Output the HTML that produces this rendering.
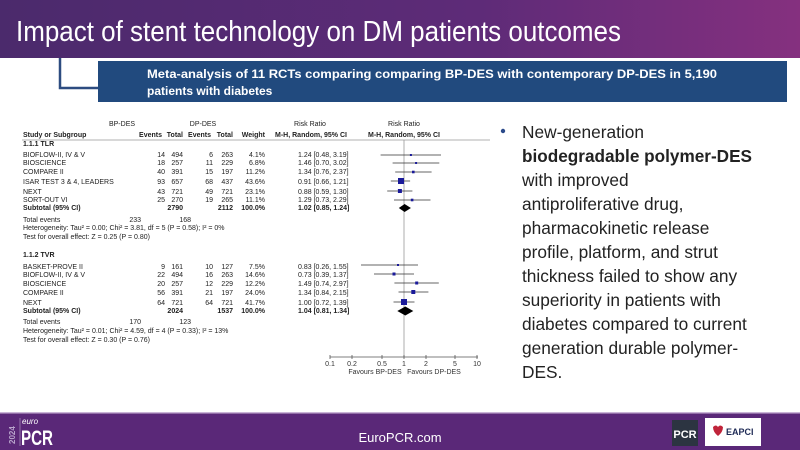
<!DOCTYPE html>
<html><head><meta charset="utf-8"><style>
html,body{margin:0;padding:0;width:800px;height:450px;overflow:hidden;background:#fff;font-family:"Liberation Sans",sans-serif}
</style></head><body>
<svg width="800" height="450" viewBox="0 0 800 450" xmlns="http://www.w3.org/2000/svg" font-family="Liberation Sans, sans-serif">
<defs>
<linearGradient id="tg" x1="0" x2="1" y1="0" y2="0"><stop offset="0" stop-color="#4b2a6c"/><stop offset="0.6" stop-color="#5e2b78"/><stop offset="1" stop-color="#85307f"/></linearGradient>
</defs>
<rect x="0" y="0" width="800" height="58" fill="url(#tg)"/>
<text x="16" y="41" font-size="29" fill="#fff" textLength="605" lengthAdjust="spacingAndGlyphs">Impact of stent technology on DM patients outcomes</text>
<path d="M60 58 V88 H98" stroke="#2d4c80" stroke-width="2.5" fill="none"/>
<rect x="98" y="61" width="689" height="41" fill="#214a7e"/>
<text x="147" y="78" font-size="12" font-weight="bold" fill="#fff" textLength="570" lengthAdjust="spacingAndGlyphs">Meta-analysis of 11 RCTs comparing comparing BP-DES with contemporary DP-DES in 5,190</text>
<text x="147" y="95" font-size="12" font-weight="bold" fill="#fff">patients with diabetes</text>

<g font-size="7" fill="#222">
<text x="122" y="126" text-anchor="middle">BP-DES</text>
<text x="203" y="126" text-anchor="middle">DP-DES</text>
<text x="310" y="126" text-anchor="middle">Risk Ratio</text>
<text x="404" y="126" text-anchor="middle">Risk Ratio</text>
<g font-weight="bold">
<text x="23" y="137">Study or Subgroup</text>
<text x="162" y="137" text-anchor="end">Events</text><text x="183" y="137" text-anchor="end">Total</text>
<text x="211" y="137" text-anchor="end">Events</text><text x="233" y="137" text-anchor="end">Total</text>
<text x="265" y="137" text-anchor="end">Weight</text>
<text x="311" y="137" text-anchor="middle">M-H, Random, 95% CI</text>
<text x="404" y="137" text-anchor="middle">M-H, Random, 95% CI</text>
<text x="23" y="146">1.1.1 TLR</text>
</g>
<line x1="22" y1="140" x2="490" y2="140" stroke="#999" stroke-width="0.8"/>

<text x="23" y="157">BIOFLOW-II, IV &amp; V</text><text x="165" y="157" text-anchor="end">14</text><text x="183" y="157" text-anchor="end">494</text><text x="213" y="157" text-anchor="end">6</text><text x="233" y="157" text-anchor="end">263</text><text x="265" y="157" text-anchor="end">4.1%</text><text x="298" y="157">1.24 [0.48, 3.19]</text>
<text x="23" y="165">BIOSCIENCE</text><text x="165" y="165" text-anchor="end">18</text><text x="183" y="165" text-anchor="end">257</text><text x="213" y="165" text-anchor="end">11</text><text x="233" y="165" text-anchor="end">229</text><text x="265" y="165" text-anchor="end">6.8%</text><text x="298" y="165">1.46 [0.70, 3.02]</text>
<text x="23" y="174">COMPARE II</text><text x="165" y="174" text-anchor="end">40</text><text x="183" y="174" text-anchor="end">391</text><text x="213" y="174" text-anchor="end">15</text><text x="233" y="174" text-anchor="end">197</text><text x="265" y="174" text-anchor="end">11.2%</text><text x="298" y="174">1.34 [0.76, 2.37]</text>
<text x="23" y="184">ISAR TEST 3 &amp; 4, LEADERS</text><text x="165" y="184" text-anchor="end">93</text><text x="183" y="184" text-anchor="end">657</text><text x="213" y="184" text-anchor="end">68</text><text x="233" y="184" text-anchor="end">437</text><text x="265" y="184" text-anchor="end">43.6%</text><text x="298" y="184">0.91 [0.66, 1.21]</text>
<text x="23" y="194">NEXT</text><text x="165" y="194" text-anchor="end">43</text><text x="183" y="194" text-anchor="end">721</text><text x="213" y="194" text-anchor="end">49</text><text x="233" y="194" text-anchor="end">721</text><text x="265" y="194" text-anchor="end">23.1%</text><text x="298" y="194">0.88 [0.59, 1.30]</text>
<text x="23" y="202">SORT-OUT VI</text><text x="165" y="202" text-anchor="end">25</text><text x="183" y="202" text-anchor="end">270</text><text x="213" y="202" text-anchor="end">19</text><text x="233" y="202" text-anchor="end">265</text><text x="265" y="202" text-anchor="end">11.1%</text><text x="298" y="202">1.29 [0.73, 2.29]</text>
<g font-weight="bold"><text x="23" y="210">Subtotal (95% CI)</text><text x="183" y="210" text-anchor="end">2790</text><text x="233" y="210" text-anchor="end">2112</text><text x="265" y="210" text-anchor="end">100.0%</text><text x="298" y="210">1.02 [0.85, 1.24]</text></g>
<text x="23" y="222">Total events</text><text x="141" y="222" text-anchor="end">233</text><text x="191" y="222" text-anchor="end">168</text>
<text x="23" y="230">Heterogeneity: Tau² = 0.00; Chi² = 3.81, df = 5 (P = 0.58); I² = 0%</text>
<text x="23" y="239">Test for overall effect: Z = 0.25 (P = 0.80)</text>

<text x="23" y="257" font-weight="bold">1.1.2 TVR</text>
<text x="23" y="269">BASKET-PROVE II</text><text x="165" y="269" text-anchor="end">9</text><text x="183" y="269" text-anchor="end">161</text><text x="213" y="269" text-anchor="end">10</text><text x="233" y="269" text-anchor="end">127</text><text x="265" y="269" text-anchor="end">7.5%</text><text x="298" y="269">0.83 [0.26, 1.55]</text>
<text x="23" y="277">BIOFLOW-II, IV &amp; V</text><text x="165" y="277" text-anchor="end">22</text><text x="183" y="277" text-anchor="end">494</text><text x="213" y="277" text-anchor="end">16</text><text x="233" y="277" text-anchor="end">263</text><text x="265" y="277" text-anchor="end">14.6%</text><text x="298" y="277">0.73 [0.39, 1.37]</text>
<text x="23" y="286">BIOSCIENCE</text><text x="165" y="286" text-anchor="end">20</text><text x="183" y="286" text-anchor="end">257</text><text x="213" y="286" text-anchor="end">12</text><text x="233" y="286" text-anchor="end">229</text><text x="265" y="286" text-anchor="end">12.2%</text><text x="298" y="286">1.49 [0.74, 2.97]</text>
<text x="23" y="295">COMPARE II</text><text x="165" y="295" text-anchor="end">56</text><text x="183" y="295" text-anchor="end">391</text><text x="213" y="295" text-anchor="end">21</text><text x="233" y="295" text-anchor="end">197</text><text x="265" y="295" text-anchor="end">24.0%</text><text x="298" y="295">1.34 [0.84, 2.15]</text>
<text x="23" y="305">NEXT</text><text x="165" y="305" text-anchor="end">64</text><text x="183" y="305" text-anchor="end">721</text><text x="213" y="305" text-anchor="end">64</text><text x="233" y="305" text-anchor="end">721</text><text x="265" y="305" text-anchor="end">41.7%</text><text x="298" y="305">1.00 [0.72, 1.39]</text>
<g font-weight="bold"><text x="23" y="313">Subtotal (95% CI)</text><text x="183" y="313" text-anchor="end">2024</text><text x="233" y="313" text-anchor="end">1537</text><text x="265" y="313" text-anchor="end">100.0%</text><text x="298" y="313">1.04 [0.81, 1.34]</text></g>
<text x="23" y="324">Total events</text><text x="141" y="324" text-anchor="end">170</text><text x="191" y="324" text-anchor="end">123</text>
<text x="23" y="333">Heterogeneity: Tau² = 0.01; Chi² = 4.59, df = 4 (P = 0.33); I² = 13%</text>
<text x="23" y="342">Test for overall effect: Z = 0.30 (P = 0.76)</text>
</g>

<!-- forest -->
<line x1="404" y1="140" x2="404" y2="357" stroke="#999" stroke-width="0.8"/>
<g stroke="#333" stroke-width="0.8">
<line x1="380.6" y1="155" x2="441" y2="155"/>
<line x1="392.6" y1="163" x2="439.3" y2="163"/>
<line x1="395.2" y1="172" x2="431.6" y2="172"/>
<line x1="390.8" y1="181" x2="410.1" y2="181"/>
<line x1="387.2" y1="191" x2="412.4" y2="191"/>
<line x1="394" y1="200" x2="430.5" y2="200"/>
<line x1="361" y1="265" x2="418" y2="265"/>
<line x1="374" y1="274" x2="414" y2="274"/>
<line x1="394.4" y1="283" x2="438.8" y2="283"/>
<line x1="398.5" y1="292" x2="428.4" y2="292"/>
<line x1="393.5" y1="302" x2="414.5" y2="302"/>
</g>
<g fill="#1a1a9a">
<rect x="409.9" y="154" width="2" height="2"/>
<rect x="415.1" y="162" width="2" height="2"/>
<rect x="412" y="170.7" width="2.6" height="2.6"/>
<rect x="398" y="178" width="6" height="6"/>
<rect x="397.9" y="189" width="4" height="4"/>
<rect x="410.8" y="198.7" width="2.6" height="2.6"/>
<rect x="397" y="264" width="2" height="2"/>
<rect x="392.5" y="272.5" width="3" height="3"/>
<rect x="415.2" y="281.5" width="3" height="3"/>
<rect x="411.3" y="290" width="4" height="4"/>
<rect x="401" y="299" width="6" height="6"/>
</g>
<polygon points="398.8,208 404.6,204 410.9,208 404.6,212" fill="#000"/>
<polygon points="397.3,311 405.3,306.5 413.3,311 405.3,315.5" fill="#000"/>
<line x1="330" y1="357" x2="478" y2="357" stroke="#555" stroke-width="0.8"/>
<g stroke="#555" stroke-width="0.8">
<line x1="330" y1="355" x2="330" y2="359"/><line x1="352" y1="355" x2="352" y2="359"/><line x1="382" y1="355" x2="382" y2="359"/><line x1="404" y1="355" x2="404" y2="359"/><line x1="426" y1="355" x2="426" y2="359"/><line x1="455" y1="355" x2="455" y2="359"/><line x1="477" y1="355" x2="477" y2="359"/>
</g>
<g font-size="7" fill="#333" text-anchor="middle">
<text x="330" y="366">0.1</text><text x="352" y="366">0.2</text><text x="382" y="366">0.5</text><text x="404" y="366">1</text><text x="426" y="366">2</text><text x="455" y="366">5</text><text x="477" y="366">10</text>
<text x="375" y="374">Favours BP-DES</text><text x="434" y="374">Favours DP-DES</text>
</g>

<!-- bullet -->
<circle cx="503" cy="131" r="2.2" fill="#2b4a8a"/>
<g font-size="17.3" fill="#222">
<text x="522" y="138">New-generation</text>
<text x="522" y="162" font-weight="bold" textLength="230" lengthAdjust="spacingAndGlyphs">biodegradable polymer-DES</text>
<text x="522" y="186">with improved</text>
<text x="522" y="210">antiproliferative drug,</text>
<text x="522" y="234">pharmacokinetic release</text>
<text x="522" y="258">profile, platform, and strut</text>
<text x="522" y="282">thickness failed to show any</text>
<text x="522" y="306">superiority in patients with</text>
<text x="522" y="330">diabetes compared to current</text>
<text x="522" y="354">generation durable polymer-</text>
<text x="522" y="378">DES.</text>
</g>

<!-- footer -->
<rect x="0" y="412" width="800" height="38" fill="#5a2878"/>
<rect x="0" y="412" width="800" height="1.5" fill="#c9b4d6"/>
<text x="15" y="444" font-size="8" font-weight="bold" fill="#b9a5cc" transform="rotate(-90 15 444)">2024</text>
<line x1="20" y1="418" x2="20" y2="446" stroke="#b9a5cc" stroke-width="0.6"/>
<text x="22" y="424" font-size="8" font-style="italic" fill="#fff">euro</text>
<text x="21" y="445" font-size="21" font-weight="bold" fill="#fff" textLength="32" lengthAdjust="spacingAndGlyphs">PCR</text>
<text x="400" y="442" font-size="13" fill="#fff" text-anchor="middle">EuroPCR.com</text>
<rect x="672" y="420" width="26" height="26" fill="#2c3441"/>
<text x="685" y="438" font-size="11" font-weight="bold" fill="#fff" text-anchor="middle">PCR</text>
<rect x="705" y="418" width="56" height="28" fill="#fff"/>
<path d="M713 427 q3 -3 5 0 q2 -3 5 0 q0 5 -5 9 q-5 -4 -5 -9z" fill="#c0243a"/>
<text x="726" y="435" font-size="9" font-weight="bold" fill="#1e2a55">EAPCI</text>
</svg>
</body></html>
